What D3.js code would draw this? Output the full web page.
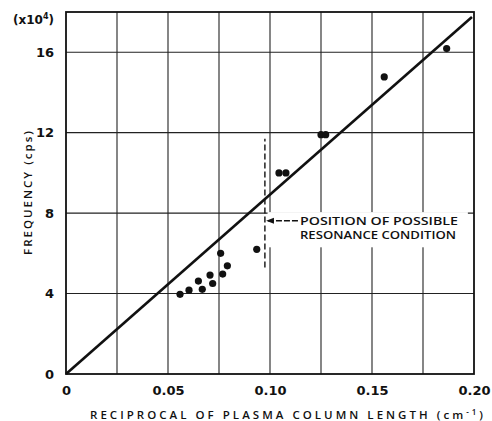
<!DOCTYPE html>
<html>
<head>
<meta charset="utf-8">
<script src="https://cdn.jsdelivr.net/npm/d3@7"></script>
<style>
  html, body { margin: 0; padding: 0; background: #fff; }
  svg { display: block; }
  text { font-family: "DejaVu Sans", "Liberation Sans", sans-serif; fill: #111; }
</style>
</head>
<body>
<svg id="chart" width="492" height="421"></svg>
<script>
// Measured frequency vs reciprocal plasma column length
const reciprocalLength = [0.0559, 0.0603, 0.0649, 0.0668, 0.0706, 0.0719, 0.0758, 0.0768, 0.0791,
                          0.0935, 0.1044, 0.1078, 0.1250, 0.1273, 0.1560, 0.1866];
const frequency = [3.96, 4.17, 4.62, 4.21, 4.92, 4.50, 6.00, 4.97, 5.38,
                   6.20, 10.0, 10.0, 11.9, 11.9, 14.77, 16.18];

// Straight line through the origin
const lineX = [0, 0.199];
const lineY = [0, 17.75];

// Position of the possible resonance condition
const resonanceX = 0.0975;
const resonanceRange = [5.3, 11.7];

const xTicks = [0, 0.05, 0.10, 0.15, 0.20];
const xTickLabels = ["0", "0.05", "0.10", "0.15", "0.20"];
const xGrid = [0.025, 0.05, 0.075, 0.10, 0.125, 0.15, 0.175];
const yTicks = [0, 4, 8, 12, 16];
const yGrid = [4, 8, 12, 16];

const svg = d3.select("#chart");
const margin = { left: 66, right: 18, top: 12, bottom: 47 };
const W = 492, H = 421;

const x = d3.scaleLinear().domain([0, 0.20]).range([margin.left, W - margin.right]);
const y = d3.scaleLinear().domain([0, 18]).range([H - margin.bottom, margin.top]);

// grid
svg.append("g").selectAll("line").data(xGrid).join("line")
  .attr("x1", d => x(d)).attr("x2", d => x(d))
  .attr("y1", y(0)).attr("y2", y(18))
  .attr("stroke", "#222").attr("stroke-width", 1.1);
svg.append("g").selectAll("line").data(yGrid).join("line")
  .attr("x1", x(0)).attr("x2", x(0.2))
  .attr("y1", d => y(d)).attr("y2", d => y(d))
  .attr("stroke", "#222").attr("stroke-width", 1.1);

// clear panel behind the annotation text
svg.append("rect")
  .attr("x", x(0.0988)).attr("y", y(8.05))
  .attr("width", x(0.197) - x(0.0988)).attr("height", y(6.3) - y(8.05))
  .attr("fill", "#fff");

// frame
svg.append("rect")
  .attr("x", x(0)).attr("y", y(18))
  .attr("width", x(0.2) - x(0)).attr("height", y(0) - y(18))
  .attr("fill", "none").attr("stroke", "#111").attr("stroke-width", 1.8);

// axes (labels only, ticks carried by the grid)
const xAxis = d3.axisBottom(x).tickValues(xTicks)
  .tickFormat((d, i) => xTickLabels[i]).tickSize(0).tickPadding(12);
svg.append("g").attr("transform", `translate(0,${y(0)})`).call(xAxis)
  .call(g => g.select(".domain").remove())
  .selectAll("text")
  .attr("font-size", 13).attr("font-weight", "bold")
  .style("font-family", "DejaVu Sans, sans-serif").attr("fill", "#111");

const yAxis = d3.axisLeft(y).tickValues(yTicks).tickFormat(d3.format("d"))
  .tickSize(0).tickPadding(12);
svg.append("g").attr("transform", `translate(${x(0)},0)`).call(yAxis)
  .call(g => g.select(".domain").remove())
  .selectAll("text")
  .attr("font-size", 13).attr("font-weight", "bold")
  .style("font-family", "DejaVu Sans, sans-serif").attr("fill", "#111");

// multiplier
const mult = svg.append("text").attr("x", 54).attr("y", 24)
  .attr("text-anchor", "end").attr("font-size", 12).attr("font-weight", "bold");
mult.append("tspan").text("(x10");
mult.append("tspan").attr("font-size", 8).attr("dy", -5).text("4");
mult.append("tspan").attr("dy", 5).text(")");

// axis titles
const xt = svg.append("text").attr("x", 90).attr("y", 419)
  .attr("font-size", 11.5).attr("font-weight", 600)
  .style("font-family", "Open Sans, DejaVu Sans, sans-serif")
  .attr("textLength", 393).attr("lengthAdjust", "spacing");
xt.append("tspan").text("RECIPROCAL OF PLASMA COLUMN LENGTH (cm");
xt.append("tspan").attr("font-size", 8).attr("dy", -4).text("-1");
xt.append("tspan").attr("dy", 4).text(")");

svg.append("text")
  .attr("transform", `translate(32,${(y(0) + y(18)) / 2}) rotate(-90)`)
  .attr("text-anchor", "middle").attr("font-size", 11.5).attr("font-weight", 600)
  .style("font-family", "Open Sans, DejaVu Sans, sans-serif")
  .attr("textLength", 124).attr("lengthAdjust", "spacing")
  .text("FREQUENCY (cps)");

// fit line
svg.append("path")
  .datum(lineX.map((d, i) => [d, lineY[i]]))
  .attr("d", d3.line().x(d => x(d[0])).y(d => y(d[1])))
  .attr("stroke", "#111").attr("stroke-width", 2.6).attr("fill", "none");

// resonance marker
svg.append("line")
  .attr("x1", x(resonanceX)).attr("x2", x(resonanceX))
  .attr("y1", y(resonanceRange[0])).attr("y2", y(resonanceRange[1]))
  .attr("stroke", "#111").attr("stroke-width", 1.4).attr("stroke-dasharray", "6,3");

svg.append("defs").append("marker")
  .attr("id", "arrowhead").attr("viewBox", "0 0 10 10")
  .attr("refX", 9).attr("refY", 5).attr("markerWidth", 7).attr("markerHeight", 6)
  .attr("orient", "auto")
  .append("path").attr("d", "M0,1 L10,5 L0,9 Z").attr("fill", "#111");

svg.append("line")
  .attr("x1", x(0.1137)).attr("x2", x(0.0985))
  .attr("y1", y(7.62)).attr("y2", y(7.62))
  .attr("stroke", "#111").attr("stroke-width", 1.3).attr("stroke-dasharray", "6,2")
  .attr("marker-end", "url(#arrowhead)");

svg.append("text").attr("x", x(0.1147)).attr("y", y(7.62)).attr("dy", "0.36em")
  .attr("font-size", 11).attr("font-weight", 600)
  .style("font-family", "Open Sans, DejaVu Sans, sans-serif")
  .attr("textLength", 158).attr("lengthAdjust", "spacingAndGlyphs")
  .text("POSITION OF POSSIBLE");
svg.append("text").attr("x", x(0.1147)).attr("y", y(6.92)).attr("dy", "0.36em")
  .attr("font-size", 11).attr("font-weight", 600)
  .style("font-family", "Open Sans, DejaVu Sans, sans-serif")
  .attr("textLength", 156).attr("lengthAdjust", "spacingAndGlyphs")
  .text("RESONANCE CONDITION");

// data points
svg.append("g").selectAll("circle").data(reciprocalLength).join("circle")
  .attr("cx", d => x(d)).attr("cy", (d, i) => y(frequency[i]))
  .attr("r", 3.6).attr("fill", "#111");
</script>
</body>
</html>
